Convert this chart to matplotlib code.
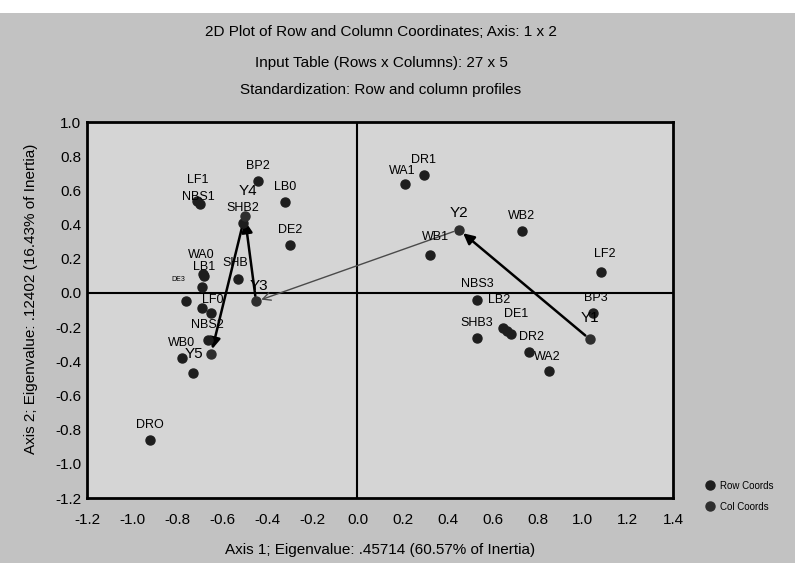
import numpy as np
import matplotlib.pyplot as plt
from matplotlib.patches import Rectangle

plt.rcParams['font.family'] = ['Liberation Sans', 'DejaVu Sans']
plt.rcParams['axes.unicode_minus'] = False

# row coordinates
row_labels = ["LF1", "NBS1", "BP2", "LB0", "DE2", "SHB2", "WA0", "LB1", "DE3", "SHB",
              "", "LF0", "", "NBS2", "WB0", "", "DRO",
              "DR1", "WA1", "WB1", "WB2", "LF2", "NBS3", "LB2", "DE1", "",
              "SHB3", "DR2", "WA2", "BP3"]
row_x = [-0.71, -0.70, -0.44, -0.32, -0.30, -0.51, -0.685, -0.68, -0.69, -0.53,
         -0.76, -0.69, -0.65, -0.665, -0.78, -0.73, -0.92,
         0.295, 0.21, 0.32, 0.73, 1.08, 0.53, 0.645, 0.665, 0.68,
         0.53, 0.76, 0.85, 1.045]
row_y = [0.54, 0.52, 0.655, 0.53, 0.28, 0.41, 0.11, 0.10, 0.035, 0.08,
         -0.05, -0.09, -0.12, -0.275, -0.38, -0.47, -0.86,
         0.69, 0.64, 0.22, 0.36, 0.12, -0.04, -0.205, -0.22, -0.24,
         -0.265, -0.345, -0.455, -0.12]

# column coordinates
col_labels = ["Y1", "Y2", "Y3", "Y4", "Y5"]
col_x = [1.03, 0.45, -0.45, -0.50, -0.65]
col_y = [-0.27, 0.37, -0.05, 0.45, -0.36]

xticks = np.round(np.arange(-1.2, 1.41, 0.2), 1) + 0.0
yticks = np.round(np.arange(-1.2, 1.01, 0.2), 1) + 0.0

# label offsets in points, default is straight above the point
offsets = {"LF1": (0, 15), "NBS1": (-1, 5), "WA0": (-1, 14), "LB1": (0, 6),
           "DE3": (-17, 5), "LF0": (8, 6), "SHB": (-2, 12), "SHB2": (0, 11),
           "WA1": (-2, 9), "WB1": (4, 13), "LF2": (3, 13), "LB2": (-3, 20),
           "DE1": (6, 12), "DR2": (2, 11), "WA2": (-1, 10), "BP3": (2, 11),
           "Y1": (0, 15), "Y3": (2, 11), "Y4": (2, 18), "Y5": (-12, 0)}

fig = plt.figure(figsize=(7.95, 5.63), dpi=100, facecolor='#c2c2c2')
fig.patches.append(Rectangle((0, 1 - 13 / 563), 1, 13 / 563, transform=fig.transFigure,
                             facecolor='white', edgecolor='none', zorder=-1))
ax = fig.add_axes([87 / 795, 1 - 498 / 563, 586 / 795, 376 / 563])
ax.set_facecolor('#d5d5d5')

ax.axhline(0, color='black', lw=1.5, zorder=1)
ax.axvline(0, color='black', lw=1.5, zorder=1)

ax.plot(row_x, row_y, 'o', color='#1e1e1e', ms=6.5, label='Row Coords', zorder=3)
ax.plot(col_x, col_y, 'o', color='#2e2e2e', ms=6.5, label='Col Coords', zorder=3)

for lab, x, y in zip(row_labels, row_x, row_y):
    if lab == "":
        continue
    ax.annotate(lab, (x, y), xytext=offsets.get(lab, (0, 11)), textcoords='offset points',
                ha='center', va='center', fontsize=5 if lab == "DE3" else 9, zorder=4)
for lab, x, y in zip(col_labels, col_x, col_y):
    ax.annotate(lab, (x, y), xytext=offsets.get(lab, (0, 12)), textcoords='offset points',
                ha='center', va='center', fontsize=11, zorder=4)

# trajectory Y1 -> Y5
for i in range(len(col_x) - 1):
    if i == 1:
        props = dict(arrowstyle='->', color='#4a4a4a', lw=1.0, shrinkA=4, shrinkB=4,
                     mutation_scale=14)
    else:
        props = dict(arrowstyle='-|>', color='black', lw=1.8, shrinkA=4, shrinkB=4,
                     mutation_scale=16)
    ax.annotate('', xy=(col_x[i + 1], col_y[i + 1]), xytext=(col_x[i], col_y[i]),
                arrowprops=props, zorder=2)

ax.set_xlim(-1.2, 1.4)
ax.set_ylim(-1.2, 1.0)
ax.set_xticks(xticks)
ax.set_yticks(yticks)
ax.set_xticklabels(['%.1f' % v for v in xticks])
ax.set_yticklabels(['%.1f' % v for v in yticks])
ax.tick_params(axis='x', length=0, pad=11, labelsize=11)
ax.tick_params(axis='y', length=0, pad=4, labelsize=11)
for s in ax.spines.values():
    s.set_linewidth(2)

ax.set_xlabel('Axis 1; Eigenvalue: .45714 (60.57% of Inertia)', fontsize=11)
ax.xaxis.set_label_coords(0.5, -0.12)
ax.set_ylabel('Axis 2; Eigenvalue: .12402 (16.43% of Inertia)', fontsize=11)
ax.yaxis.set_label_coords(-0.084, 0.53)

fig.text(381 / 795, 1 - 32 / 563, '2D Plot of Row and Column Coordinates; Axis: 1 x 2',
         ha='center', va='center', fontsize=11)
fig.text(381 / 795, 1 - 63 / 563, 'Input Table (Rows x Columns): 27 x 5',
         ha='center', va='center', fontsize=11)
fig.text(381 / 795, 1 - 90 / 563, 'Standardization: Row and column profiles',
         ha='center', va='center', fontsize=11)

ax.legend(loc='upper left', bbox_to_anchor=(700 / 795, 1 - 476 / 563),
          bbox_transform=fig.transFigure, frameon=False, fontsize=7,
          handletextpad=0.6, labelspacing=1.1, handlelength=1.0, borderpad=0)

fig.savefig('out.png', dpi=100, facecolor=fig.get_facecolor())
